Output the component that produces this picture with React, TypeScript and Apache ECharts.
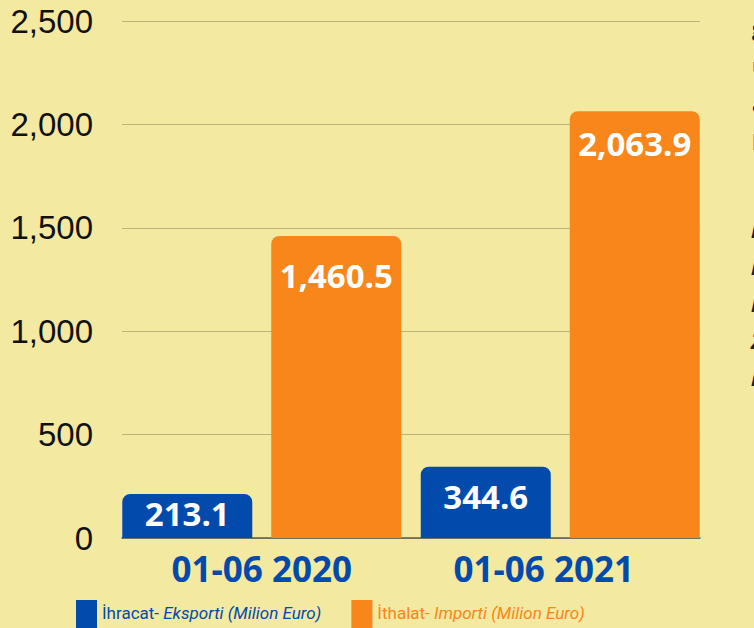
import React, { useEffect, useRef } from "react";
import * as echarts from "echarts";

const categories = ["01-06 2020", "01-06 2021"];
const exportValues = [213.1, 344.6];
const importValues = [1460.5, 2063.9];
const yTicks = { min: 0, max: 2500, interval: 500 };
const exportName = "İhracat- Eksporti (Milion Euro)";
const importName = "İthalat- Importi (Milion Euro)";
const sideBold = ["g", "u", "a", "l"];
const sideItalic = ["l", "l", "l", "Z", "l"];

const BLUE = "#024bad";
const ORANGE = "#f8861a";
const BG = "#f4e9a1";
const LEGEND_FONT = "Roboto";

export default function App() {
  const ref = useRef<HTMLDivElement>(null);
  useEffect(() => {
    document.body.style.margin = "0";
    const chart = echarts.init(ref.current!, null, { renderer: "svg" });
    const exportDist = [3, 13];
    const importDist = [23, 16];
    const labelBase = {
      show: true,
      position: "insideTop",
      color: "#ffffff",
      fontFamily: "Open Sans",
      fontWeight: "bold",
      fontSize: 33,
      formatter: (p: any) =>
        Number(p.value).toLocaleString("en-US", { minimumFractionDigits: 1, maximumFractionDigits: 1 }),
    };
    const legendFmt = (name: string) => {
      const i = name.indexOf("- ");
      return "{a|" + name.slice(0, i + 1) + "}{b|" + name.slice(i + 1) + "}";
    };
    const legendRich = (color: string) => ({
      color,
      fontFamily: LEGEND_FONT,
      fontSize: 17,
      rich: {
        a: { color, fontFamily: LEGEND_FONT, fontSize: 17, padding: [0, 0, 8, 0] },
        b: { color, fontFamily: LEGEND_FONT, fontSize: 17, fontStyle: "italic", padding: [0, 0, 8, 0] },
      },
    });
    const graphics: any[] = [];
    sideBold.forEach((t, i) => {
      graphics.push({
        type: "text",
        left: 752,
        top: 16 + i * 38,
        style: { text: t, fill: "#222", font: "bold 22px Open Sans" },
      });
    });
    sideItalic.forEach((t, i) => {
      graphics.push({
        type: "text",
        left: 751,
        top: 218 + i * 37,
        style: { text: t, fill: "#222", font: "italic bold 22px Open Sans" },
      });
    });
    chart.setOption({
      animation: false,
      backgroundColor: BG,
      grid: [
        { left: 122, right: 54, top: 21, bottom: 90 },
        { left: 112.5, right: 44.5, top: 21, bottom: 90 },
      ],
      xAxis: [
        {
          type: "category",
          gridIndex: 0,
          data: categories,
          axisLine: { lineStyle: { color: "#5a5a52", width: 1.5 } },
          axisTick: { show: false },
          axisLabel: { show: false },
        },
        {
          type: "category",
          gridIndex: 1,
          data: categories,
          axisLine: { show: false },
          axisTick: { show: false },
          axisLabel: {
            interval: 0,
            hideOverlap: false,
            margin: 13,
            color: BLUE,
            fontFamily: "Open Sans",
            fontWeight: "bold",
            fontSize: 35,
            formatter: (v: string, i: number) => (i === 1 ? "{s|" + v + "}" : v),
            rich: {
              s: {
                color: BLUE,
                fontFamily: "Open Sans",
                fontWeight: "bold",
                fontSize: 35,
                padding: [0, 33, 0, 0],
              },
            },
          },
        },
      ],
      yAxis: [
        {
          type: "value",
          gridIndex: 0,
          ...yTicks,
          axisLine: { show: false },
          axisTick: { show: false },
          splitLine: { lineStyle: { color: "#bdb27a", width: 1 } },
          axisLabel: {
            margin: 29,
            color: "#111",
            fontFamily: "Liberation Sans",
            fontSize: 33,
            formatter: (v: number) => v.toLocaleString("en-US"),
          },
        },
        {
          type: "value",
          gridIndex: 1,
          ...yTicks,
          show: false,
          splitLine: { show: false },
        },
      ],
      legend: {
        left: 71,
        top: 595,
        itemWidth: 21,
        itemHeight: 33,
        itemGap: 30,
        icon: "rect",
        formatter: legendFmt,
        data: [
          { name: exportName, textStyle: legendRich(BLUE) },
          { name: importName, textStyle: legendRich(ORANGE) },
        ],
      },
      series: [
        {
          name: exportName,
          type: "bar",
          xAxisIndex: 1,
          yAxisIndex: 1,
          barWidth: 130,
          barGap: "14.6%",
          itemStyle: { color: BLUE, borderRadius: [8, 8, 0, 0] },
          label: labelBase,
          data: exportValues.map((v, i) => ({ value: v, label: { distance: exportDist[i] } })),
        },
        {
          name: importName,
          type: "bar",
          xAxisIndex: 1,
          yAxisIndex: 1,
          barWidth: 130,
          barGap: "14.6%",
          itemStyle: { color: ORANGE, borderRadius: [8, 8, 0, 0] },
          label: labelBase,
          data: importValues.map((v, i) => ({ value: v, label: { distance: importDist[i] } })),
        },
      ],
      graphic: graphics,
    });
    return () => chart.dispose();
  }, []);
  return <div ref={ref} style={{ width: 754, height: 628 }} />;
}
